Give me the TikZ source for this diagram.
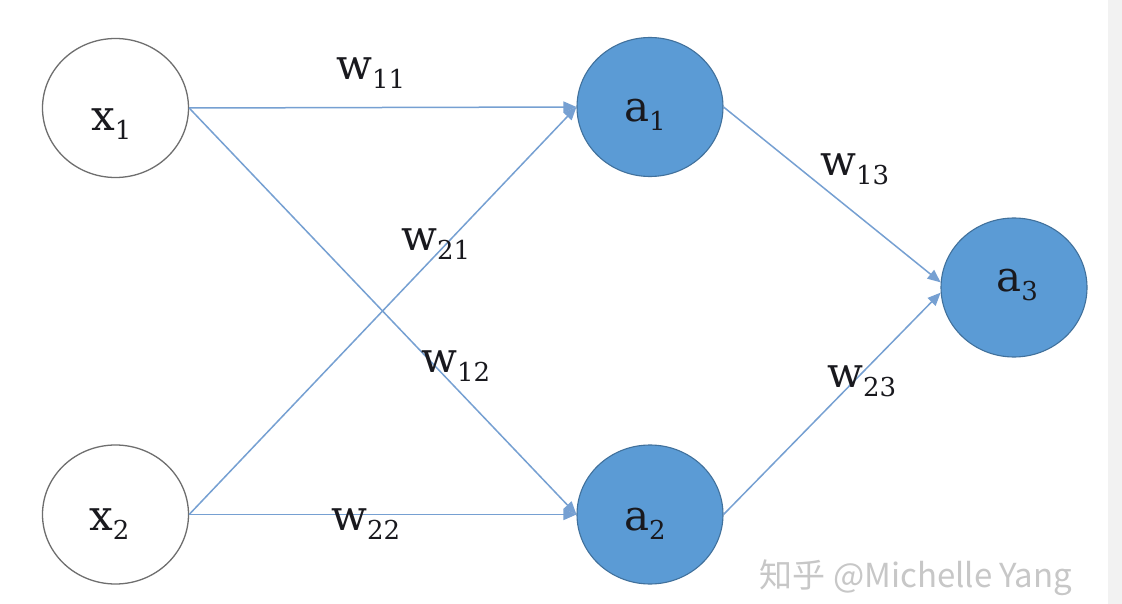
\documentclass[tikz,border=0pt]{standalone}
\usepackage{fontspec}
\setmainfont{DejaVu Serif}
\newfontfamily\wmfont{Noto Sans CJK SC}
\usetikzlibrary{shapes.geometric,arrows.meta}
\definecolor{nodeblue}{RGB}{91,155,213}
\definecolor{nodeedge}{RGB}{65,113,156}
\definecolor{edgeblue}{RGB}{118,160,210}
\definecolor{ringgray}{RGB}{110,110,110}
\definecolor{txt}{RGB}{25,25,30}
\newcommand\lbl[2]{#1\raisebox{-9pt}{\fontsize{26}{26}\selectfont #2}}
\tikzset{
  inputnode/.style={ellipse, draw=ringgray, line width=1.3pt, fill=white,
    minimum width=146pt, minimum height=139pt, inner sep=0pt},
  unitnode/.style={ellipse, draw=nodeedge, line width=1.1pt, fill=nodeblue,
    minimum width=146pt, minimum height=139pt, inner sep=0pt},
  wire/.style={draw=edgeblue, line width=1.5pt,
    -{Triangle[length=13pt,width=11pt]}},
  txtlabel/.style={inner sep=0pt, anchor=base west, text=txt,
    font=\fontsize{42}{42}\selectfont},
}
\begin{document}
\begin{tikzpicture}[x=1pt,y=-1pt]
\useasboundingbox (0,0) rectangle (1122,604);
\fill[white] (0,0) rectangle (1122,604);
\fill[black!5] (1108,0) rectangle (1122,604);

\node[inputnode] (x1) at (115.5,108) {};
\node[inputnode] (x2) at (115.5,514.5) {};
\node[unitnode] (a1) at (650,107) {};
\node[unitnode] (a2) at (650,514.5) {};
\node[unitnode] (a3) at (1014,287.5) {};

\draw[wire] (x1.east) -- (a1.west);
\draw[wire] (x1.east) -- (a2.west);
\draw[wire] (x2.east) -- (a1.west);
\draw[wire] (x2.east) -- (a2.west);
\draw[wire] (a1.east) -- (a3.176);
\draw[wire] (a2.east) -- (a3.184);

\node[txtlabel] (tx1) at (91,131) {\lbl{x}{1}};
\node[txtlabel] (tx2) at (89,530) {\lbl{x}{2}};
\node[txtlabel] (ta1) at (624,122) {\lbl{a}{1}};
\node[txtlabel] (ta2) at (624,530) {\lbl{a}{2}};
\node[txtlabel] (ta3) at (996,291) {\lbl{a}{3}};

\node[txtlabel] (w11) at (336,80) {\lbl{w}{11}};
\node[txtlabel] (w22) at (331,530) {\lbl{w}{22}};
\node[txtlabel] (w21) at (401,251) {\lbl{w}{21}};
\node[txtlabel] (w12) at (421,372) {\lbl{w}{12}};
\node[txtlabel] (w13) at (820,176) {\lbl{w}{13}};
\node[txtlabel] (w23) at (827,387) {\lbl{w}{23}};

\node[inner sep=0pt, text=black!22, font=\wmfont\fontsize{33}{33}\selectfont]
  (wm) at (916,578) {知乎 @Michelle Yang};
\end{tikzpicture}
\end{document}
